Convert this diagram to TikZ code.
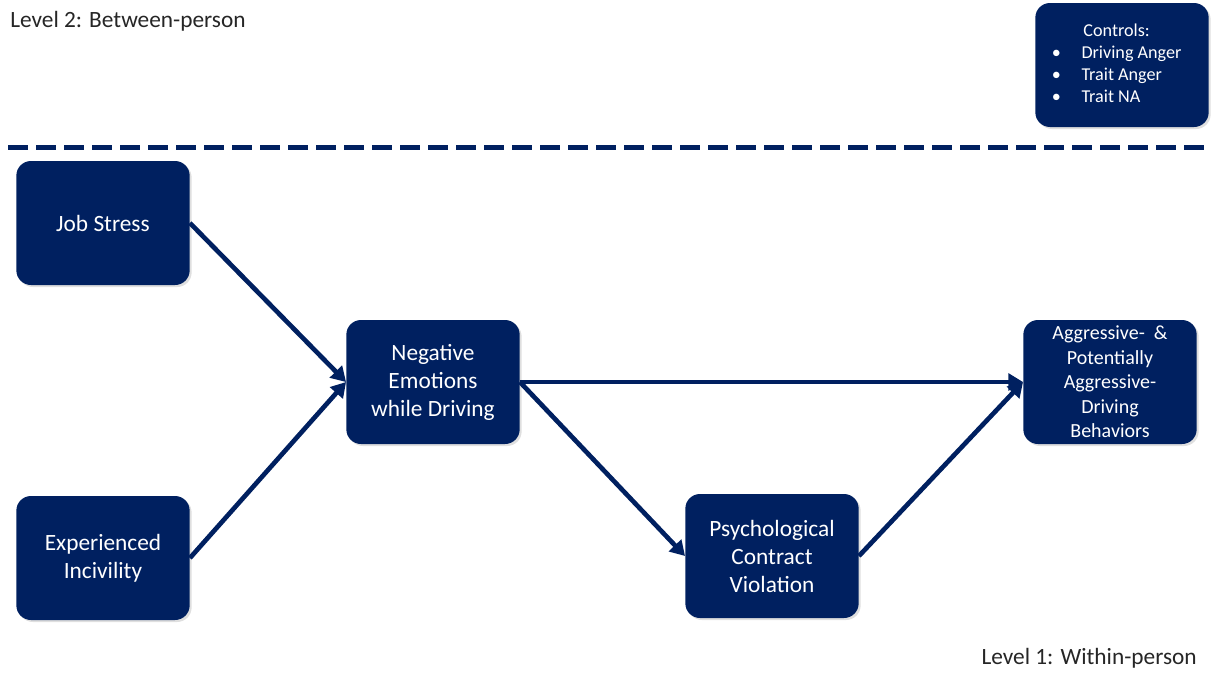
\documentclass[tikz,border=0pt]{standalone}
\usepackage{fontspec}
\setmainfont{Carlito}
\usepackage{xcolor}
\usepackage{tikz}
\usetikzlibrary{positioning,arrows.meta,shadows}
\definecolor{navy}{HTML}{002060}

\begin{document}
\begin{tikzpicture}[x=0.75pt, y=-0.75pt,
    box/.style={fill=navy, rounded corners=11pt, text=white, align=center, minimum width=130pt, minimum height=93pt, inner sep=2pt, font=\fontsize{17.5}{21}\selectfont, drop shadow={opacity=0.25, shadow xshift=1.5pt, shadow yshift=-1.5pt}},
    link/.style={-{Triangle[length=11pt, width=12.5pt]}, line width=3.5pt, navy}]
    \useasboundingbox (0,0) rectangle (1211,675);

    % Level labels
    \node[anchor=west, inner sep=0, text=black!85, font=\fontsize{17.5}{21}\selectfont] (lvltwo) at (10,21) {Level 2: Between-person};
    \node[anchor=east, inner sep=0, text=black!85, font=\fontsize{17.5}{21}\selectfont] (lvlone) at (1197,658) {Level 1: Within-person};

    % Controls (between-person)
    \node[box, font=\fontsize{13.6}{16.5}\selectfont] (ctrl) at (1122,65) {
        \begin{tabular}{@{}l@{\hspace{15.5pt}}l@{}}
        \multicolumn{2}{c}{Controls:} \\
        \textbullet & Driving Anger \\
        \textbullet & Trait Anger \\
        \textbullet & Trait NA \\
        \end{tabular}\hspace{5pt}
    };

    % Level divider
    \draw[navy, line width=3.75pt, dash pattern=on 15pt off 6pt] (8,147) -- (1211,147);

    % Within-person model
    \node[box] (js) at (103,223) {Job Stress};
    \node[box] (inc) at (103,558) {Experienced\\Incivility};
    \node[box] (neg) at (433,382) {Negative\\Emotions\\while Driving};
    \node[box] (pcv) at (772,556) {Psychological\\Contract\\Violation};
    \node[box, font=\fontsize{15}{18.4}\selectfont] (aggr) at (1110,382) {Aggressive-~~\&\\Potentially\\Aggressive-\\Driving\\Behaviors};

    % Paths
    \draw[link] (js.east) -- (neg.west);
    \draw[link] (inc.east) -- (neg.west);
    \draw[link] (neg.east) -- (aggr.west);
    \draw[link] (neg.east) -- (pcv.west);
    \draw[link] (pcv.east) -- (aggr.west);
\end{tikzpicture}
\end{document}
